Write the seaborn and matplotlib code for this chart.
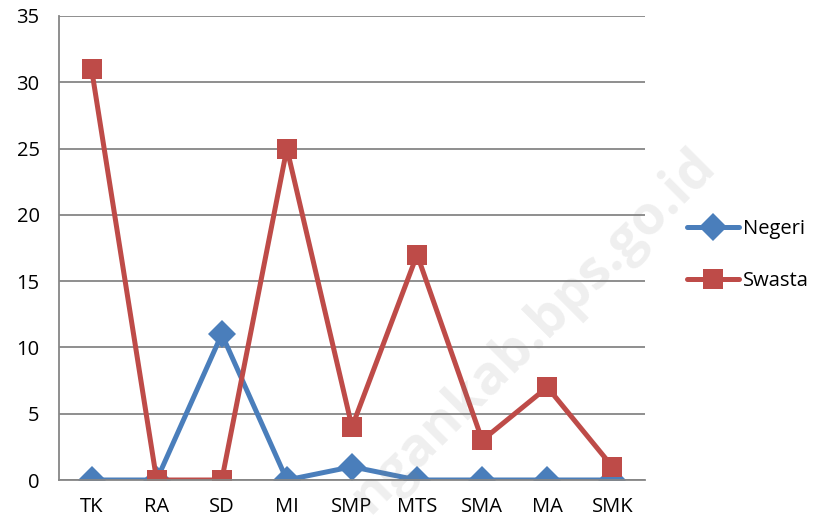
import pandas as pd
import matplotlib.pyplot as plt
import seaborn as sns

# data
categories = ['TK', 'RA', 'SD', 'MI', 'SMP', 'MTS', 'SMA', 'MA', 'SMK']
negeri = [0, 0, 11, 0, 1, 0, 0, 0, 0]
swasta = [31, 0, 0, 25, 4, 17, 3, 7, 1]

df = pd.DataFrame({
    'Jenjang': categories * 2,
    'Jumlah': negeri + swasta,
    'Status': ['Negeri'] * len(categories) + ['Swasta'] * len(categories),
})

sns.set_style("white")
plt.rcParams['font.family'] = ['Open Sans', 'DejaVu Sans']
plt.rcParams['text.color'] = 'black'
plt.rcParams['xtick.labelcolor'] = 'black'
plt.rcParams['ytick.labelcolor'] = 'black'

fig = plt.figure(figsize=(8.25, 5.27), dpi=100)
ax = fig.add_axes([59 / 825, 1 - 480 / 527, (645 - 59) / 825, (480 - 16) / 527])

sns.lineplot(data=df, x='Jenjang', y='Jumlah', hue='Status', style='Status',
             markers={'Negeri': 'D', 'Swasta': 's'}, dashes=False,
             palette={'Negeri': '#4A7EBB', 'Swasta': '#BE4B48'},
             linewidth=3.6, markersize=14, markeredgewidth=0, sort=False, ax=ax)

ax.set_xlim(-0.5, len(categories) - 0.5)
ax.set_ylim(0, 35)
ax.set_yticks(range(0, 36, 5))
ax.grid(axis='y', color='#868686', linewidth=1.3)
ax.set_axisbelow(True)
for s in ['top', 'right']:
    ax.spines[s].set_visible(False)
for s in ['left', 'bottom']:
    ax.spines[s].set_color('#868686')
    ax.spines[s].set_linewidth(1.3)
ax.set_xticks(range(len(categories)))
ax.set_xticklabels(categories)
ax.tick_params(axis='x', length=0, labelsize=14.5, pad=12)
ax.tick_params(axis='y', length=7, color='#868686', width=1.3, labelsize=14.5, pad=7)
ax.set_xticks([i + 0.5 for i in range(-1, len(categories))], minor=True)
ax.tick_params(axis='x', which='minor', length=7, color='#868686', width=1.3)
ax.set_xlabel('')
ax.set_ylabel('')

ax.legend(loc='center left', bbox_to_anchor=(1.04, 0.485), frameon=False,
          fontsize=14.5, handlelength=2.6, handletextpad=0.2, labelspacing=1.55)

fig.text(688 / 825, 1 - 138 / 527, 'ngankab.bps.go.id', rotation=45,
         rotation_mode='anchor', ha='right', va='top', fontsize=39,
         fontweight='bold', color='#808080', alpha=0.13, zorder=10)

fig.savefig('out.png', dpi=100)
